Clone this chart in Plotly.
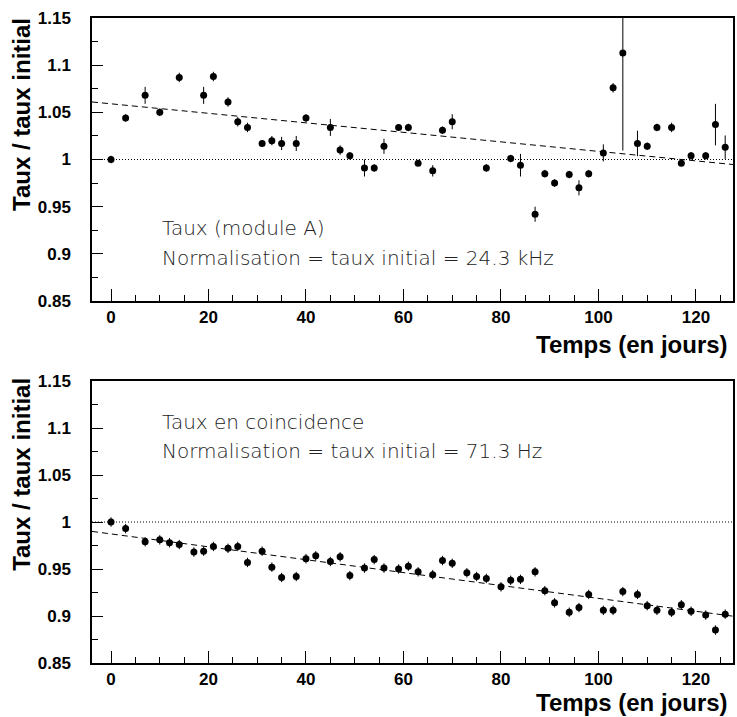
import plotly.graph_objects as go
from plotly.subplots import make_subplots

# ---- data: top panel (module A) ----
days_a = [0, 3, 7, 10, 14, 19, 21, 24, 26, 28, 31, 33, 35, 38, 40, 45, 47, 49, 52, 54,
          56, 59, 61, 63, 66, 68, 70, 77, 82, 84, 87, 89, 91, 94, 96, 98, 101, 103, 105,
          108, 110, 112, 115, 117, 119, 122, 124, 126]
ratio_a = [1.000, 1.044, 1.068, 1.050, 1.087, 1.068, 1.088, 1.061, 1.040, 1.034, 1.017,
           1.020, 1.017, 1.017, 1.044, 1.034, 1.010, 1.004, 0.991, 0.991, 1.014, 1.034,
           1.034, 0.996, 0.988, 1.031, 1.040, 0.991, 1.001, 0.994, 0.942, 0.985, 0.975,
           0.984, 0.970, 0.985, 1.007, 1.076, 1.113, 1.017, 1.014, 1.034, 1.034, 0.996,
           1.004, 1.004, 1.037, 1.013]
err_a = [0.004, 0.004, 0.009, 0.004, 0.005, 0.009, 0.005, 0.005, 0.005, 0.005, 0.003,
         0.005, 0.007, 0.008, 0.004, 0.009, 0.005, 0.004, 0.009, 0.004, 0.008, 0.003,
         0.004, 0.002, 0.006, 0.004, 0.008, 0.004, 0.004, 0.012, 0.008, 0.004, 0.004,
         0.004, 0.008, 0.004, 0.009, 0.005, 0.1035, 0.0135, 0.004, 0.004, 0.005, 0.002,
         0.004, 0.004, 0.022, 0.0125]
fit_a_x = [-3.9, 127.6]
fit_a_y = [1.061, 0.9947]

# ---- data: bottom panel (coincidence) ----
days_c = [0, 3, 7, 10, 12, 14, 17, 19, 21, 24, 26, 28, 31, 33, 35, 38, 40, 42, 45, 47,
          49, 52, 54, 56, 59, 61, 63, 66, 68, 70, 73, 75, 77, 80, 82, 84, 87, 89, 91, 94,
          96, 98, 101, 103, 105, 108, 110, 112, 115, 117, 119, 122, 124, 126]
ratio_c = [1.000, 0.993, 0.979, 0.981, 0.978, 0.976, 0.968, 0.969, 0.974, 0.972, 0.974,
           0.957, 0.969, 0.952, 0.941, 0.942, 0.961, 0.964, 0.958, 0.963, 0.943, 0.951,
           0.960, 0.951, 0.950, 0.953, 0.947, 0.944, 0.959, 0.956, 0.946, 0.942, 0.940,
           0.931, 0.938, 0.939, 0.947, 0.927, 0.914, 0.904, 0.909, 0.923, 0.906, 0.906,
           0.926, 0.923, 0.911, 0.906, 0.904, 0.912, 0.905, 0.901, 0.885, 0.902]
err_c = [0.005] * len(days_c)
fit_c_x = [-3.9, 127.6]
fit_c_y = [0.990, 0.8998]

ref_x = [-3.9, 127.6]
ref_y = [1.0, 1.0]

x_ticks = [0, 20, 40, 60, 80, 100, 120]
y_ticks = [0.85, 0.9, 0.95, 1.0, 1.05, 1.1, 1.15]
y_tick_text = ["0.85", "0.9", "0.95", "1", "1.05", "1.1", "1.15"]

fig = make_subplots(rows=2, cols=1, vertical_spacing=0.0)

for row, (dx, dy, de, fx, fy) in enumerate(
        [(days_a, ratio_a, err_a, fit_a_x, fit_a_y),
         (days_c, ratio_c, err_c, fit_c_x, fit_c_y)], start=1):
    fig.add_trace(go.Scatter(x=ref_x, y=ref_y, mode="lines",
                             line=dict(color="black", width=1, dash="1px,2px"),
                             showlegend=False, hoverinfo="skip"), row=row, col=1)
    fig.add_trace(go.Scatter(x=fx, y=fy, mode="lines",
                             line=dict(color="black", width=1, dash="6px,4px"),
                             showlegend=False, hoverinfo="skip"), row=row, col=1)
    fig.add_trace(go.Scatter(x=dx, y=dy, mode="markers",
                             marker=dict(color="black", size=7, symbol="circle"),
                             error_y=dict(type="data", array=de, visible=True,
                                          color="black", thickness=1, width=0),
                             showlegend=False), row=row, col=1)

axis_common = dict(showline=True, mirror=True, linecolor="black", linewidth=1.5,
                   showgrid=False, zeroline=False,
                   tickfont=dict(family="Liberation Sans, Arial, sans-serif",
                                 size=17, color="black", weight="bold"))

for r in (1, 2):
    fig.update_xaxes(range=[-3.9, 127.6], tickvals=x_ticks, ticks="inside",
                     ticklen=12, tickwidth=1, tickcolor="black",
                     minor=dict(ticks="inside", ticklen=6, dtick=5, tick0=0,
                                tickcolor="black", tickwidth=1),
                     showticklabels=True, **axis_common, row=r, col=1)
    fig.update_yaxes(range=[0.85, 1.15], tickvals=y_ticks, ticktext=y_tick_text,
                     ticks="inside", ticklen=11, tickwidth=1, tickcolor="black",
                     minor=dict(ticks="inside", ticklen=6, dtick=0.025, tick0=0.85,
                                tickcolor="black", tickwidth=1),
                     ticklabelstandoff=16,
                     **axis_common, row=r, col=1)

fig.update_layout(
    yaxis=dict(domain=[0.5612, 1.0]),
    yaxis2=dict(domain=[0.0, 0.4372]),
)

label_font = dict(family="DejaVu Sans ExtraLight, DejaVu Sans, sans-serif", size=20,
                  color="#222", weight=200)
ytitle_font = dict(family="Liberation Sans, Arial, sans-serif", size=24, color="black", weight="bold")
xtitle_font = dict(family="Liberation Sans, Arial, sans-serif", size=24, color="black", weight="bold")

annotations = [
    dict(x=10, y=0.927, xref="x", yref="y", text="Taux (module A)"),
    dict(x=10, y=0.896, xref="x", yref="y", text="Normalisation = taux initial = 24.3 kHz"),
    dict(x=10, y=1.1068, xref="x2", yref="y2", text="Taux en coincidence"),
    dict(x=10, y=1.076, xref="x2", yref="y2", text="Normalisation = taux initial = 71.3 Hz"),
]
for a in annotations:
    fig.add_annotation(xanchor="left", yanchor="middle", showarrow=False,
                       font=label_font, **a)

for yc in (0.851, 0.293):
    fig.add_annotation(x=-0.111, y=yc, xref="paper", yref="paper", text="Taux / taux initial",
                       textangle=-90, xanchor="center", yanchor="middle",
                       showarrow=False, font=ytitle_font)
for yc in (0.4945, -0.0615):
    fig.add_annotation(x=0.996, y=yc, xref="paper", yref="paper", text="Temps (en jours)",
                       xanchor="right", yanchor="middle", showarrow=False, font=xtitle_font)

fig.update_layout(width=737, height=717, margin=dict(l=92, r=2, t=18, b=54),
                  plot_bgcolor="white", paper_bgcolor="white", showlegend=False)

fig.write_html("out.html")
